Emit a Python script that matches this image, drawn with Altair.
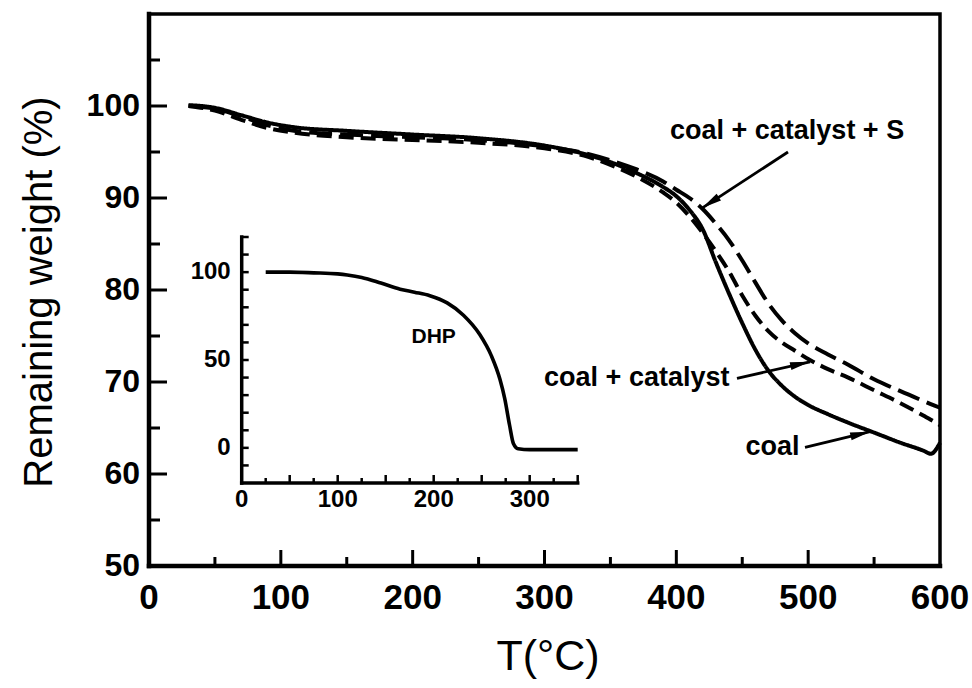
import math

import altair as alt
import pandas as pd

FONT = "Liberation Sans"

# ---- Thermogravimetric curves (main panel) ----
temp = [30, 50, 70, 90, 110, 150, 200, 250, 300, 330, 350, 370, 390, 400, 410,
        420, 430, 440, 450, 460, 470, 480, 490, 500, 515, 530, 550, 570, 588, 593, 600]
coal = [100.1, 99.8, 99.0, 98.2, 97.7, 97.3, 96.9, 96.5, 95.7, 94.8, 93.9, 92.7, 91.2, 90.2, 88.7,
        86.6, 83.0, 79.6, 76.4, 73.5, 71.2, 69.6, 68.4, 67.5, 66.5, 65.6, 64.5, 63.4, 62.5, 62.2, 63.4]
coal_cat = [100.0, 99.5, 98.5, 97.6, 97.1, 96.6, 96.3, 96.0, 95.4, 94.6, 93.6, 92.3, 90.6, 89.5, 88.0,
            86.2, 84.2, 82.0, 79.4, 77.2, 75.5, 74.3, 73.4, 72.5, 71.4, 70.5, 69.1, 67.7, 66.3, 65.9, 65.3]
coal_cat_s = [100.0, 99.7, 98.9, 97.9, 97.3, 96.9, 96.6, 96.3, 95.6, 94.9, 94.1, 93.1, 91.8, 90.9, 90.0,
              88.8, 87.2, 85.4, 83.2, 80.8, 78.5, 76.7, 75.3, 74.2, 73.0, 71.9, 70.3, 69.0, 67.9, 67.6, 67.2]
series_names = ["coal", "coal + catalyst", "coal + catalyst + S"]

# ---- DHP curve (inset) ----
dhp_temp = [25, 50, 75, 100, 110, 125, 145, 165, 180, 196, 214, 231, 248, 260, 269, 274,
            279, 283, 288, 300, 325, 350]
dhp_weight = [100, 100, 99.6, 99.0, 98.4, 97.0, 93.8, 90.3, 88.6, 86.6, 82.5, 75.5, 64.5, 52.5, 39, 28,
              13, 2.5, -0.5, -1, -1, -1]

# ---- Axis values and titles ----
x_labels = [0, 100, 200, 300, 400, 500, 600]
y_labels = [50, 60, 70, 80, 90, 100]
x_ticks_major = [100, 200, 300, 400, 500]
x_ticks_minor = [50, 150, 250, 350, 450, 550]
y_ticks_major = [60, 70, 80, 90, 100]
y_ticks_minor = [55, 65, 75, 85, 95, 105]
x_title = "T(°C)"
y_title = "Remaining weight (%)"

inset_x_labels = [0, 100, 200, 300]
inset_y_labels = [0, 50, 100]
inset_x_ticks_major = [50, 100, 150, 200, 250, 300, 350]
inset_x_ticks_minor = [25, 75, 125, 175, 225, 275, 325]
inset_y_ticks = [-10, 0, 10, 20, 30, 40, 50, 60, 70, 80, 90, 100, 110, 120]

# ---- Annotations ----
label_text = ["coal + catalyst + S", "coal + catalyst", "coal"]
label_x = [484, 370, 473]
label_y = [97.3, 70.4, 62.9]
arrow_x1 = [484.7, 446.0, 497.6]
arrow_y1 = [95.0, 70.4, 62.9]
arrow_x2 = [419.5, 501.4, 547.0]
arrow_y2 = [88.9, 72.2, 64.6]

# ---- Geometry (plot area in px, inset frame in px inside it) ----
W, H = 791, 552
X_DOMAIN, Y_DOMAIN = [0, 600], [50, 110]
INSET_X_DOMAIN, INSET_Y_DOMAIN = [0, 350], [-20, 120]
INSET_LEFT, INSET_RIGHT = 92.7, 428.7
INSET_BOTTOM, INSET_TOP = 469, 223

px_x = W / (X_DOMAIN[1] - X_DOMAIN[0])
px_y = H / (Y_DOMAIN[1] - Y_DOMAIN[0])

# Linear map from the inset's own units into the main panel's units
ix0 = X_DOMAIN[0] + INSET_LEFT / px_x
ikx = (INSET_RIGHT - INSET_LEFT) / px_x / (INSET_X_DOMAIN[1] - INSET_X_DOMAIN[0])
iy0 = Y_DOMAIN[0] + (H - INSET_BOTTOM) / px_y
iky = (INSET_BOTTOM - INSET_TOP) / px_y / (INSET_Y_DOMAIN[1] - INSET_Y_DOMAIN[0])


def inset_x(field):
    return f"{ix0} + (datum.{field} - {INSET_X_DOMAIN[0]}) * {ikx}"


def inset_y(field):
    return f"{iy0} + (datum.{field} - {INSET_Y_DOMAIN[0]}) * {iky}"


main_df = pd.DataFrame({
    "T": temp * 3,
    "W": coal + coal_cat + coal_cat_s,
    "sample": [series_names[0]] * len(temp) + [series_names[1]] * len(temp) + [series_names[2]] * len(temp),
})
dhp_df = pd.DataFrame({"T": dhp_temp, "W": dhp_weight})
label_df = pd.DataFrame({"text": label_text, "x": label_x, "y": label_y})

arrow_df = pd.DataFrame({"x1": arrow_x1, "y1": arrow_y1, "x2": arrow_x2, "y2": arrow_y2})
arrow_df["ang"] = [
    math.degrees(math.atan2(-(b2 - b1) * px_y, (a2 - a1) * px_x)) % 360
    for a1, b1, a2, b2 in zip(arrow_x1, arrow_y1, arrow_x2, arrow_y2)
]

xs = alt.Scale(domain=X_DOMAIN, nice=False, zero=False)
ys = alt.Scale(domain=Y_DOMAIN, nice=False, zero=False)
X = lambda f: alt.X(f, type="quantitative", scale=xs, axis=None)
Y = lambda f: alt.Y(f, type="quantitative", scale=ys, axis=None)

lines = alt.Chart(main_df).mark_line(color="black", strokeWidth=4, interpolate="monotone").encode(
    x=X("T"), y=Y("W"),
    strokeDash=alt.StrokeDash("sample:N", scale=alt.Scale(domain=series_names,
                                                          range=[[1, 0], [15, 7], [23, 8]]), legend=None),
)


def x_ticks(values, length, base, width, inset=False):
    ch = alt.Chart(pd.DataFrame({"t": values}))
    if inset:
        ch = ch.transform_calculate(tx=inset_x("t"))
    return ch.mark_rule(color="black", strokeWidth=width).encode(
        x=X("tx" if inset else "t"), y=alt.value(base), y2=alt.value(base - length))


def y_ticks(values, length, base, width, inset=False):
    ch = alt.Chart(pd.DataFrame({"t": values}))
    if inset:
        ch = ch.transform_calculate(ty=inset_y("t"))
    return ch.mark_rule(color="black", strokeWidth=width).encode(
        y=Y("ty" if inset else "t"), x=alt.value(base), x2=alt.value(base + length))


# ---- Main axes: tick labels and titles ----
main_xlab = alt.Chart(pd.DataFrame({"t": x_labels})).transform_calculate(
    lab="format(datum.t, 'd')"
).mark_text(font=FONT, fontSize=35, fontWeight="bold", color="black", align="center",
            baseline="middle").encode(x=X("t"), y=alt.value(H + 32), text="lab:N")

main_ylab = alt.Chart(pd.DataFrame({"t": y_labels})).transform_calculate(
    lab="format(datum.t, 'd')"
).mark_text(font=FONT, fontSize=32, fontWeight="bold", color="black", align="right",
            baseline="middle").encode(y=Y("t"), x=alt.value(-9), text="lab:N")

main_xtitle = alt.Chart(pd.DataFrame({"text": [x_title]})).mark_text(
    font=FONT, fontSize=43, color="black", align="center", baseline="middle"
).encode(x=alt.value(399), y=alt.value(H + 91), text="text:N")

main_ytitle = alt.Chart(pd.DataFrame({"text": [y_title]})).mark_text(
    font=FONT, fontSize=40, color="black", align="center", baseline="middle", angle=270
).encode(x=alt.value(-109), y=alt.value(278), text="text:N")

axis_lines = alt.Chart(pd.DataFrame({
    "xa": [X_DOMAIN[0], X_DOMAIN[0]], "ya": [Y_DOMAIN[0], Y_DOMAIN[0]],
    "xb": [X_DOMAIN[0], X_DOMAIN[1]], "yb": [Y_DOMAIN[1], Y_DOMAIN[0]],
})).mark_rule(color="black", strokeWidth=4.5, strokeCap="square").encode(
    x=X("xa"), y=Y("ya"), x2="xb:Q", y2="yb:Q")

# ---- Annotations with arrows ----
labels = alt.Chart(label_df).mark_text(font=FONT, fontSize=27, fontWeight="bold", color="black",
                                        align="center", baseline="middle").encode(
    x=X("x"), y=Y("y"), text="text:N")

shafts = alt.Chart(arrow_df).mark_rule(color="black", strokeWidth=2.8).encode(
    x=X("x1"), y=Y("y1"), x2="x2:Q", y2="y2:Q")

heads = alt.Chart(arrow_df).mark_point(shape="M0,0 L-2,-0.4 L-2,0.4 Z", filled=True, color="black",
                                       opacity=1, size=400, strokeWidth=0).encode(
    x=X("x2"), y=Y("y2"), angle=alt.Angle("ang:Q", scale=None))

# ---- Inset: DHP curve with its own left and bottom axes ----
dhp_line = alt.Chart(dhp_df).transform_calculate(
    tx=inset_x("T"), ty=inset_y("W")
).mark_line(color="black", strokeWidth=3.6, interpolate="monotone").encode(
    x=X("tx"), y=Y("ty"), order="T:Q")

inset_frame = alt.Chart(pd.DataFrame({
    "xa": [INSET_X_DOMAIN[0], INSET_X_DOMAIN[0]], "ya": [INSET_Y_DOMAIN[0], INSET_Y_DOMAIN[0]],
    "xb": [INSET_X_DOMAIN[0], INSET_X_DOMAIN[1]], "yb": [INSET_Y_DOMAIN[1], INSET_Y_DOMAIN[0]],
})).transform_calculate(
    x1=inset_x("xa"), y1=inset_y("ya"), x2=inset_x("xb"), y2=inset_y("yb")
).mark_rule(color="black", strokeWidth=3.5, strokeCap="square").encode(
    x=X("x1"), y=Y("y1"), x2="x2:Q", y2="y2:Q")

inset_xlab = alt.Chart(pd.DataFrame({"t": inset_x_labels})).transform_calculate(
    tx=inset_x("t"), lab="format(datum.t, 'd')"
).mark_text(font=FONT, fontSize=24, fontWeight="bold", color="black", align="center",
            baseline="top").encode(x=X("tx"), y=alt.value(INSET_BOTTOM + 5), text="lab:N")

inset_ylab = alt.Chart(pd.DataFrame({"t": inset_y_labels})).transform_calculate(
    ty=inset_y("t"), lab="format(datum.t, 'd')"
).mark_text(font=FONT, fontSize=24, fontWeight="bold", color="black", align="right",
            baseline="middle").encode(y=Y("ty"), x=alt.value(INSET_LEFT - 11), text="lab:N")

dhp_label = alt.Chart(pd.DataFrame({"text": ["DHP"], "x": [200], "y": [63]})).transform_calculate(
    tx=inset_x("x"), ty=inset_y("y")
).mark_text(font=FONT, fontSize=21, fontWeight="bold", color="black", align="center",
            baseline="middle").encode(x=X("tx"), y=Y("ty"), text="text:N")

chart = alt.layer(
    lines,
    axis_lines,
    x_ticks(x_ticks_major, 16, H, 3),
    x_ticks(x_ticks_minor, 9, H, 3),
    y_ticks(y_ticks_major, 18, 0, 3),
    y_ticks(y_ticks_minor, 11, 0, 3),
    main_xlab, main_ylab, main_xtitle, main_ytitle,
    shafts, heads, labels,
    inset_frame,
    x_ticks(inset_x_ticks_major, 8, INSET_BOTTOM, 2.5, inset=True),
    x_ticks(inset_x_ticks_minor, 5, INSET_BOTTOM, 2.5, inset=True),
    y_ticks(inset_y_ticks, 7, INSET_LEFT, 2.5, inset=True),
    dhp_line, inset_xlab, inset_ylab, dhp_label,
).properties(
    width=W, height=H,
    padding={"left": 149, "top": 14, "right": 32, "bottom": 122},
    autosize=alt.AutoSizeParams(type="none"),
    background="white",
).configure_view(stroke="black", strokeWidth=3.5)

chart.save("out.html", embed_options={"renderer": "svg", "actions": False})
